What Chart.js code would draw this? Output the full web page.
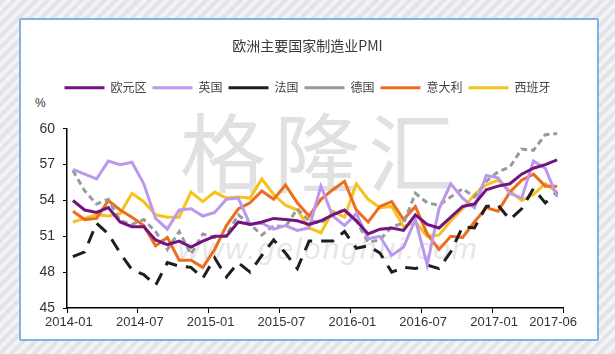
<!DOCTYPE html>
<html>
<head>
<meta charset="utf-8">
<script src="https://cdn.jsdelivr.net/npm/chart.js"></script>
<style>
  html, body { margin: 0; padding: 0; }
  body {
    width: 615px; height: 354px; overflow: hidden; position: relative;
    background: repeating-linear-gradient(135deg, #e4e4e8 0px, #e4e4e8 4px, #f3f3f5 4px, #f3f3f5 8px);
  }
  #panel {
    position: absolute; left: 19px; top: 18px; width: 580px; height: 323px;
    box-sizing: border-box; border: 2px solid #80b2e4; border-radius: 2px; background: #fff;
  }
  #wm1 {
    position: absolute; left: 180px; top: 106px; font: 86px "Noto Sans CJK SC";
    color: rgba(195, 195, 195, 0.5); letter-spacing: 8px; line-height: 1;
  }
  #wm2 {
    position: absolute; left: 178px; top: 232px; font: italic 30px "Liberation Sans";
    color: rgba(200, 200, 200, 0.45); letter-spacing: 2px;
  }
  #pct {
    position: absolute; left: 35px; top: 96px; font: 12px "Liberation Sans"; color: #333;
  }
  #c { position: absolute; left: 0; top: 0; }
</style>
</head>
<body>
<div id="panel"></div>
<div id="wm1">格隆汇</div>
<div id="wm2">www.gelonghui.com</div>
<div id="pct">%</div>
<canvas id="c" width="615" height="354"></canvas>
<script>
// 月份 2014-01 ~ 2017-06
const months = [];
for (let y = 2014; y <= 2017; y++) {
  for (let m = 1; m <= 12; m++) {
    if (y === 2017 && m > 6) break;
    months.push(y + '-' + String(m).padStart(2, '0'));
  }
}
const tickIdx = [0, 6, 12, 18, 24, 30, 36, 41];

const euroZone = [54.0, 53.2, 53.0, 53.4, 52.2, 51.8, 51.8, 50.7, 50.3, 50.6, 50.1, 50.6,
  51.0, 51.0, 52.2, 52.0, 52.2, 52.5, 52.4, 52.3, 52.0, 52.3, 52.8, 53.2,
  52.3, 51.2, 51.6, 51.7, 51.5, 52.8, 52.0, 51.7, 52.6, 53.5, 53.7, 54.9,
  55.2, 55.4, 56.2, 56.7, 57.0, 57.4];
const uk = [56.6, 56.2, 55.8, 57.3, 57.0, 57.2, 55.4, 52.5, 51.6, 53.2, 53.3, 52.7,
  53.0, 54.1, 54.2, 52.0, 52.1, 51.6, 51.9, 51.5, 51.7, 55.2, 52.7, 51.9,
  52.9, 50.8, 51.0, 49.4, 50.1, 52.4, 48.6, 53.3, 55.4, 54.2, 53.4, 56.1,
  55.9, 54.6, 54.2, 57.3, 56.7, 54.3];
const france = [49.3, 49.7, 52.1, 51.2, 49.6, 48.2, 47.8, 46.9, 48.8, 48.5, 48.4, 47.5,
  49.2, 47.6, 48.8, 48.0, 49.4, 50.7, 49.6, 48.3, 50.6, 50.6, 50.6, 51.4,
  50.0, 50.2, 49.6, 48.0, 48.4, 48.3, 48.6, 48.3, 49.7, 51.8, 51.7, 53.5,
  53.6, 52.4, 53.3, 55.0, 53.8, 54.7];
const germany = [56.5, 54.8, 53.7, 54.1, 52.3, 52.0, 52.4, 51.4, 49.9, 51.4, 49.5, 51.2,
  50.9, 51.1, 52.8, 52.0, 51.1, 51.9, 51.8, 53.3, 52.3, 52.1, 52.9, 53.2,
  52.3, 50.5, 50.7, 51.8, 52.1, 54.6, 53.8, 53.6, 54.3, 55.0, 54.3, 55.6,
  56.4, 56.8, 58.3, 58.2, 59.5, 59.6];
const italy = [53.1, 52.4, 52.5, 54.0, 53.2, 52.6, 51.9, 50.2, 50.9, 49.0, 49.0, 48.4,
  49.9, 51.9, 53.3, 53.8, 54.8, 54.1, 55.3, 53.8, 52.7, 54.1, 54.9, 55.6,
  53.2, 52.2, 53.5, 53.9, 52.4, 53.5, 51.2, 49.9, 51.0, 50.9, 52.2, 53.4,
  53.1, 54.7, 55.7, 56.2, 55.2, 55.2];
const spain = [52.2, 52.5, 52.8, 52.7, 52.9, 54.6, 53.9, 52.8, 52.6, 52.6, 54.7, 53.9,
  54.7, 54.2, 54.3, 54.2, 55.8, 54.5, 53.6, 53.2, 51.7, 51.3, 53.1, 52.6,
  55.4, 54.1, 53.4, 53.5, 51.8, 52.2, 51.0, 51.1, 52.3, 53.3, 54.5, 55.3,
  55.7, 54.8, 54.0, 54.5, 55.4, 54.7];

const narrow = "'Liberation Sans Narrow', 'Liberation Sans', Arial, sans-serif";
const cjk = "'Noto Sans CJK SC', sans-serif";

function line(label, data, color, dash) {
  return {
    label: label, data: data, borderColor: color, backgroundColor: color,
    borderWidth: 3, borderDash: dash || [], pointRadius: 0, tension: 0, fill: false
  };
}

new Chart(document.getElementById('c'), {
  type: 'line',
  data: {
    labels: months,
    datasets: [
      line('欧元区', euroZone, '#72157f'),
      line('英国', uk, '#bb98ee'),
      line('法国', france, '#1e1e1e', [13, 9]),
      line('德国', germany, '#9a9a9a', [6, 4]),
      line('意大利', italy, '#ef6c1f'),
      line('西班牙', spain, '#f7c21b')
    ]
  },
  options: {
    responsive: false,
    animation: false,
    layout: { padding: 0 },
    plugins: {
      title: {
        display: true,
        text: '欧洲主要国家制造业PMI',
        color: '#3a3a3a',
        font: { family: cjk, size: 14, weight: 'normal' },
        padding: { top: 37, bottom: 22 }
      },
      subtitle: {
        display: true, text: '', weight: 500,
        font: { size: 25, lineHeight: 1 }, padding: 0
      },
      legend: {
        labels: {
          usePointStyle: true,
          pointStyle: 'line',
          pointStyleWidth: 40,
          padding: 6,
          color: '#404040',
          font: { family: cjk, size: 12 }
        }
      },
      tooltip: { enabled: false }
    },
    scales: {
      x: {
        offset: true,
        grid: {
          offset: true,
          drawOnChartArea: false,
          tickLength: 5,
          color: ctx => (ctx.index === undefined || ctx.index % 6 === 0) ? '#000' : 'rgba(0,0,0,0)'
        },
        border: { color: '#000', width: 1.5 },
        ticks: {
          autoSkip: false, maxRotation: 0, padding: 2, labelOffset: -4,
          color: '#333', font: { family: narrow, size: 13 },
          callback: (v, i) => tickIdx.includes(i) ? months[i] : ''
        },
        afterFit: s => { s.height = 46; }
      },
      y: {
        min: 45, max: 60,
        grid: { drawOnChartArea: false, tickLength: 4, color: '#000' },
        border: { color: '#000', width: 1.5 },
        ticks: { stepSize: 3, padding: 8, color: '#333', font: { family: narrow, size: 14 } },
        afterFit: s => { s.width = 67; }
      },
      y2: {
        position: 'right',
        grid: { display: false },
        border: { display: false },
        ticks: { display: false },
        afterFit: s => { s.width = 52; }
      }
    }
  }
});
</script>
</body>
</html>
